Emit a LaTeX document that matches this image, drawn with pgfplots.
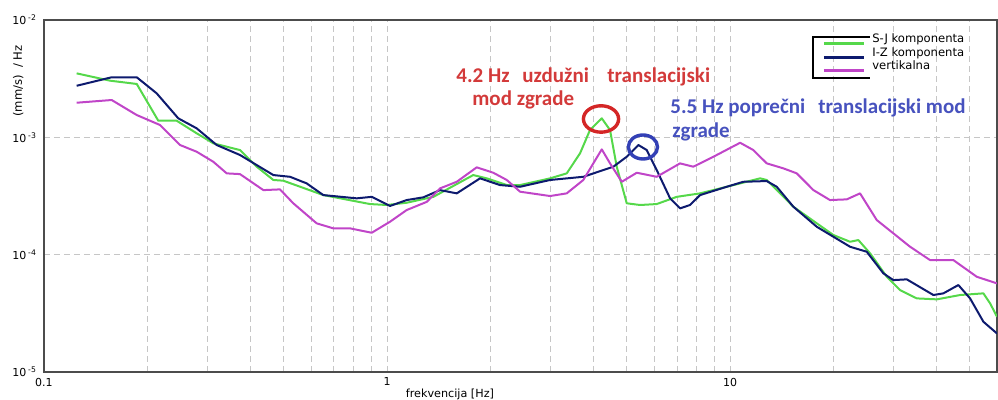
\documentclass[border=0pt]{standalone}
\usepackage{fontspec}
\setmainfont{DejaVu Sans}
\newfontfamily\annfont{Carlito}
\usepackage{pgfplots}
\pgfplotsset{compat=1.18}
\definecolor{sjgreen}{HTML}{55D84A}
\definecolor{iznavy}{HTML}{0D1A6E}
\definecolor{vertmag}{HTML}{C045C8}
\definecolor{annred}{HTML}{D33A3A}
\definecolor{annblue}{HTML}{4752BE}
\definecolor{circred}{HTML}{D42626}
\definecolor{circblue}{HTML}{3340B5}

\begin{document}
\begin{tikzpicture}
\useasboundingbox (-22pt,-14pt) rectangle (477pt,186pt);
\begin{axis}[
  scale only axis, width=476.5pt, height=176pt,
  xmode=log, ymode=log,
  xmin=0.1, xmax=60, ymin=1e-5, ymax=1e-2,
  xtick={0.1,1,10}, xticklabels={0.1,1,10},
  minor xtick={0.2,0.3,0.4,0.5,0.6,0.7,0.8,0.9,2,3,4,5,6,7,8,9,20,30,40,50},
  ytick={1e-5,1e-4,1e-3,1e-2},
  yticklabels={10\,\textsuperscript{-5},10\,\textsuperscript{-4},10\,\textsuperscript{-3},10\,\textsuperscript{-2}},
  minor ytick={},
  xmajorgrids, xminorgrids, ymajorgrids,
  grid style={densely dashed, gray!45, line width=0.4pt},
  major tick length=0pt, minor tick length=0pt,
  axis line style={gray!60!black, line width=0.6pt},
  tick label style={font=\fontsize{5.5}{6}\selectfont},
  xticklabel style={yshift=0.6pt},
  xlabel={frekvencija [Hz]},
  xlabel style={at={(rel axis cs:0.426,0)}, anchor=center, yshift=-11pt, font=\fontsize{5.6}{6}\selectfont},
  ylabel={(mm/s)\ \ / Hz},
  ylabel style={at={(rel axis cs:0,0.8267)}, anchor=center, yshift=12.85pt, font=\fontsize{5.8}{6.5}\selectfont},
  legend style={at={(rel axis cs:0.8164,0.9652)}, anchor=north west, draw=none, fill=none,
    font=\fontsize{5.8}{6.3}\selectfont, inner sep=0pt, row sep=0pt,
    nodes={text height=4.5pt, text depth=1.35pt, inner sep=0.45pt}},
  legend cell align=left,
  legend image code/.code={\draw[#1, line width=1.5pt] (0pt,-2.3pt) -- (20pt,-2.3pt); \path (23.25pt,0pt);},
  every axis plot/.append style={line width=1pt, line join=round},
]
\addplot[sjgreen] coordinates {
(0.1245,3.51e-3) (0.1557,3.04e-3) (0.1864,2.85e-3) (0.2154,1.385e-3) (0.2437,1.385e-3)
(0.2787,1.082e-3) (0.3116,8.89e-4) (0.3727,7.79e-4) (0.417,5.62e-4) (0.4662,4.33e-4)
(0.4985,4.27e-4) (0.652,3.22e-4) (0.892,2.70e-4) (0.998,2.65e-4) (1.141,2.77e-4)
(1.365,3.11e-4) (1.784,4.77e-4) (1.953,4.47e-4) (2.234,3.92e-4) (2.443,3.92e-4)
(2.988,4.47e-4) (3.341,4.93e-4) (3.653,7.30e-4) (3.906,1.154e-3) (4.227,1.452e-3)
(4.468,1.154e-3) (4.674,5.62e-4) (4.998,2.74e-4) (5.467,2.65e-4) (6.113,2.70e-4)
(6.99,3.11e-4) (8.176,3.33e-4) (9.78,3.79e-4) (12.23,4.47e-4) (12.79,4.33e-4)
(13.99,3.33e-4) (15.30,2.56e-4) (17.90,1.849e-4) (20.01,1.47e-4) (22.38,1.288e-4)
(23.66,1.332e-4) (25.6,1.026e-4) (28.64,6.48e-5) (31.30,4.99e-5) (35.02,4.24e-5)
(40.06,4.16e-5) (46.84,4.53e-5) (54.77,4.68e-5) (57.28,3.85e-5) (60,2.96e-5)
};
\addlegendentry{S-J komponenta}
\addplot[iznavy] coordinates {
(0.1245,2.75e-3) (0.1575,3.25e-3) (0.1864,3.25e-3) (0.2131,2.37e-3) (0.2463,1.452e-3)
(0.2787,1.193e-3) (0.3188,8.60e-4) (0.3727,7.07e-4) (0.4662,4.77e-4) (0.5215,4.61e-4)
(0.5832,4.05e-4) (0.652,3.22e-4) (0.816,3.02e-4) (0.9024,3.11e-4) (1.020,2.60e-4)
(1.141,2.92e-4) (1.276,3.08e-4) (1.427,3.55e-4) (1.597,3.33e-4) (1.867,4.47e-4)
(2.135,3.92e-4) (2.443,3.79e-4) (2.988,4.33e-4) (3.735,4.61e-4) (4.569,5.62e-4)
(4.998,6.83e-4) (5.405,8.60e-4) (5.717,7.79e-4) (6.113,5.26e-4) (6.686,3.02e-4)
(7.149,2.48e-4) (7.644,2.65e-4) (8.176,3.22e-4) (9.78,3.79e-4) (10.93,4.18e-4)
(12.79,4.24e-4) (13.68,3.79e-4) (15.30,2.56e-4) (17.90,1.729e-4) (20.01,1.421e-4)
(22.38,1.168e-4) (25.03,1.059e-4) (27.99,6.93e-5) (29.93,6.07e-5) (32.75,6.16e-5)
(39.15,4.53e-5) (41.87,4.68e-5) (46.30,5.51e-5) (50.08,4.24e-5) (54.77,2.68e-5) (60,2.13e-5)
};
\addlegendentry{I-Z komponenta}
\addplot[vertmag] coordinates {
(0.1245,1.972e-3) (0.1575,2.08e-3) (0.1864,1.549e-3) (0.2179,1.273e-3) (0.2492,8.60e-4)
(0.2787,7.54e-4) (0.3116,6.19e-4) (0.341,4.93e-4) (0.3727,4.86e-4) (0.436,3.55e-4)
(0.4875,3.60e-4) (0.533,2.74e-4) (0.6237,1.849e-4) (0.6973,1.676e-4) (0.7799,1.676e-4)
(0.9024,1.537e-4) (1.020,1.908e-4) (1.141,2.40e-4) (1.306,2.82e-4) (1.427,3.67e-4)
(1.597,4.18e-4) (1.826,5.55e-4) (2.041,4.99e-4) (2.234,4.33e-4) (2.443,3.44e-4)
(2.988,3.16e-4) (3.341,3.33e-4) (3.735,4.33e-4) (3.995,6.00e-4) (4.227,7.90e-4)
(4.468,6.00e-4) (4.834,4.18e-4) (5.346,4.99e-4) (6.113,4.61e-4) (7.149,6.00e-4)
(7.816,5.62e-4) (8.94,6.83e-4) (10.70,8.99e-4) (11.69,7.79e-4) (12.79,6.00e-4)
(14.30,5.44e-4) (15.65,4.93e-4) (17.50,3.55e-4) (19.56,2.92e-4) (21.89,2.96e-4)
(23.93,3.33e-4) (26.77,1.972e-4) (29.93,1.519e-4) (33.48,1.168e-4) (38.29,8.99e-5)
(44.77,8.99e-5) (52.39,6.48e-5) (60,5.69e-5)
};
\addlegendentry{vertikalna}
% open legend frame
\draw[black, line width=0.7pt] (rel axis cs:0.8667,0.9517) -- (rel axis cs:0.8069,0.9517)
  -- (rel axis cs:0.8069,0.8352) -- (rel axis cs:0.8667,0.8352);
% annotations
\begin{scope}[every node/.style={font=\annfont\bfseries\fontsize{10.5}{11}\selectfont, inner sep=0pt, anchor=base west}]
\node[annred] at (rel axis cs:0.4323,0.8219) {4.2 Hz};
\node[annred] at (rel axis cs:0.5016,0.8219) {uzdužni};
\node[annred] at (rel axis cs:0.5908,0.8219) {translacijski};
\node[annred] at (rel axis cs:0.4491,0.7585) {mod zgrade};
\node[annblue] at (rel axis cs:0.6569,0.733) {5.5 Hz poprečni};
\node[annblue] at (rel axis cs:0.8122,0.733) {translacijski mod};
\node[annblue] at (rel axis cs:0.659,0.6656) {zgrade};
\end{scope}
\draw[circred, line width=1.7pt] (rel axis cs:0.5845,0.7188) ellipse [x radius=8.8pt, y radius=6.6pt];
\draw[circblue, line width=1.7pt] (rel axis cs:0.6285,0.6392) ellipse [x radius=7.3pt, y radius=6pt];
\end{axis}
\end{tikzpicture}
\end{document}
